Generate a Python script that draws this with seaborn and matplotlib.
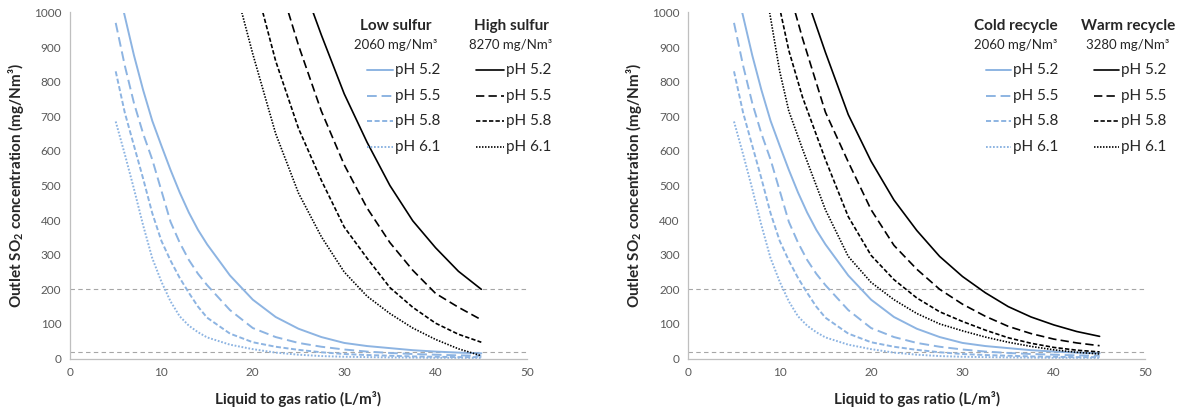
import matplotlib
matplotlib.use("Agg")
import matplotlib.pyplot as plt
from matplotlib.lines import Line2D
import pandas as pd
import seaborn as sns

# --- data (L/m3 -> outlet SO2 mg/Nm3) ---
# 2060 mg/Nm3 inlet (low sulfur = cold recycle)
b52_x = [5.9, 7, 8, 9, 10, 11, 12, 13, 14, 15, 17.5, 20, 22.5, 25, 27.5, 30, 32.5, 35, 37.5, 40, 42.5, 45]
b52_y = [1000, 876, 776, 687, 615, 545, 480, 422, 372, 330, 240, 170, 120, 86, 62, 45, 36, 30, 24, 20, 17, 15]
b_x = [5, 6, 7, 8, 9, 10, 11, 12, 13, 14, 15, 17.5, 20, 22.5, 25, 27.5, 30, 32.5, 35, 37.5, 40, 42.5, 45]
b55_y = [970, 846, 738, 650, 575, 485, 395, 335, 285, 245, 212, 140, 88, 62, 45, 34, 26, 20, 16, 13, 11, 9, 8]
b58_y = [830, 710, 615, 520, 420, 340, 283, 233, 190, 150, 118, 72, 47, 34, 25, 18, 13, 10, 8, 6, 5, 4, 4]
b61_y = [685, 590, 490, 385, 290, 222, 165, 122, 95, 76, 61, 40, 27, 17, 11, 7, 5, 4, 3, 2.5, 2, 2, 1.5]

# 8270 mg/Nm3 inlet (high sulfur)
h52_x = [26.6, 27.5, 30, 32.5, 35, 37.5, 40, 42.5, 45]
h52_y = [1000, 935, 765, 625, 500, 398, 320, 252, 200]
h55_x = [23.9, 25, 27.5, 30, 32.5, 35, 37.5, 40, 42.5, 45]
h55_y = [1000, 905, 715, 560, 435, 335, 255, 188, 148, 112]
h58_x = [21.1, 22.5, 25, 27.5, 30, 32.5, 35, 37.5, 40, 42.5, 45]
h58_y = [1000, 860, 665, 515, 380, 290, 205, 148, 102, 70, 47]
h61_x = [18.8, 20, 22.5, 25, 27.5, 30, 32.5, 35, 37.5, 40, 42.5, 45]
h61_y = [1000, 880, 650, 478, 352, 250, 180, 130, 88, 55, 28, 8]

# 3280 mg/Nm3 inlet (warm recycle)
w52_x = [13.5, 15, 17.5, 20, 22.5, 25, 27.5, 30, 32.5, 35, 37.5, 40, 42.5, 45]
w52_y = [1000, 885, 705, 570, 458, 370, 295, 237, 190, 150, 120, 97, 78, 64]
w55_x = [11.7, 12.5, 15, 17.5, 20, 22.5, 25, 27.5, 30, 32.5, 35, 37.5, 40, 42.5, 45]
w55_y = [1000, 925, 712, 568, 430, 327, 258, 200, 157, 122, 93, 72, 56, 45, 37]
w58_x = [10.1, 11, 12.5, 15, 17.5, 20, 22.5, 25, 27.5, 30, 32.5, 35, 37.5, 40, 42.5, 45]
w58_y = [1000, 890, 755, 575, 410, 298, 228, 175, 135, 107, 82, 60, 44, 32, 24, 19]
w61_x = [8.9, 10, 11, 12.5, 15, 17.5, 20, 22.5, 25, 27.5, 30, 32.5, 35, 37.5, 40, 42.5, 45]
w61_y = [1000, 830, 715, 605, 430, 295, 220, 170, 130, 100, 80, 62, 47, 35, 25, 18, 13]

ph_labels = ["pH 5.2", "pH 5.5", "pH 5.8", "pH 6.1"]
limits = [200, 20]

blue_curves = [(b52_x, b52_y), (b_x, b55_y), (b_x, b58_y), (b_x, b61_y)]
panels = [
    {"left": 70, "heads": ("Low sulfur", "High sulfur"),
     "subs": ("2060 mg/Nm³", "8270 mg/Nm³"),
     "black": [(h52_x, h52_y), (h55_x, h55_y), (h58_x, h58_y), (h61_x, h61_y)],
     "hx": (396, 511), "bh": (367, 393), "kh": (476, 504)},
    {"left": 688.3, "heads": ("Cold recycle", "Warm recycle"),
     "subs": ("2060 mg/Nm³", "3280 mg/Nm³"),
     "black": [(w52_x, w52_y), (w55_x, w55_y), (w58_x, w58_y), (w61_x, w61_y)],
     "hx": (1016, 1128), "bh": (986, 1011), "kh": (1094, 1119)},
]

sns.set_style("white")
plt.rcParams["font.family"] = ["Lato", "DejaVu Sans"]
plt.rcParams["mathtext.fontset"] = "custom"
plt.rcParams["mathtext.rm"] = "Lato"
plt.rcParams["mathtext.bf"] = "Lato:bold"

BLUE = "#8DB4E2"
GRID = "#BFBFBF"
TXT = "#262626"
styles = ["-", (0, (5, 2.5)), (0, (2.6, 1.3)), (0, (0.9, 0.9))]
W, H = 1183, 408


def fx(px):
    return px / W


def fy(py):
    return 1 - py / H


fig = plt.figure(figsize=(W / 100, H / 100), dpi=100)
ax_w = 457
ax_top, ax_bot = 12.5, 358.5
ax_h = ax_bot - ax_top
rows = [70, 95.7, 121.3, 146.7]

for p in panels:
    ax = fig.add_axes([fx(p["left"]), fy(ax_bot), ax_w / W, ax_h / H])
    for v in limits:
        ax.axhline(v, color="#A6A6A6", lw=0.8, ls=(0, (4, 3)), zorder=1)

    for (x, y), ls in zip(blue_curves, styles):
        df = pd.DataFrame({"ratio": x, "so2": y})
        sns.lineplot(data=df, x="ratio", y="so2", ax=ax, color=BLUE, lw=1.4,
                     linestyle=ls, estimator=None, sort=False, legend=False)
    for (x, y), ls in zip(p["black"], styles):
        df = pd.DataFrame({"ratio": x, "so2": y})
        sns.lineplot(data=df, x="ratio", y="so2", ax=ax, color="black", lw=1.2,
                     linestyle=ls, estimator=None, sort=False, legend=False)

    ax.set_xlim(0, 50)
    ax.set_ylim(0, 1000)
    ax.set_xticks(range(0, 51, 10))
    ax.set_yticks(range(0, 1001, 100))
    for s in ["top", "right"]:
        ax.spines[s].set_visible(False)
    for s in ["left", "bottom"]:
        ax.spines[s].set_color(GRID)
        ax.spines[s].set_linewidth(0.9)
    ax.tick_params(axis="both", colors=GRID, labelcolor="#595959", labelsize=8.5,
                   length=3.2, width=0.9, pad=3)
    ax.set_xlabel("Liquid to gas ratio (L/m³)", fontsize=11, fontweight="bold",
                  color=TXT, va="center")
    ax.xaxis.set_label_coords(0.5, -(399 - ax_bot) / ax_h)
    ax.set_ylabel(r"Outlet SO$_\mathbf{2}$ concentration (mg/Nm³)", fontsize=11,
                  fontweight="bold", color=TXT, va="center")
    ax.yaxis.set_label_coords(-54 / ax_w, 0.5)

    # legend block: two columns of headers and line samples
    for cx, head, sub in zip(p["hx"], p["heads"], p["subs"]):
        fig.text(fx(cx), fy(26), head, ha="center", va="center", fontsize=11,
                 fontweight="bold", color=TXT)
        fig.text(fx(cx), fy(45), sub, ha="center", va="center", fontsize=9.5,
                 color=TXT)
    for (h0, h1), col, lw in [(p["bh"], BLUE, 1.4), (p["kh"], "black", 1.2)]:
        for ry, ls, lab in zip(rows, styles, ph_labels):
            fig.add_artist(Line2D([fx(h0), fx(h1)], [fy(ry), fy(ry)], color=col,
                                  lw=lw, linestyle=ls))
            fig.text(fx(h1 + 2), fy(ry), lab, ha="left", va="center", fontsize=11,
                     color=TXT)

fig.savefig("out.png", dpi=100)
